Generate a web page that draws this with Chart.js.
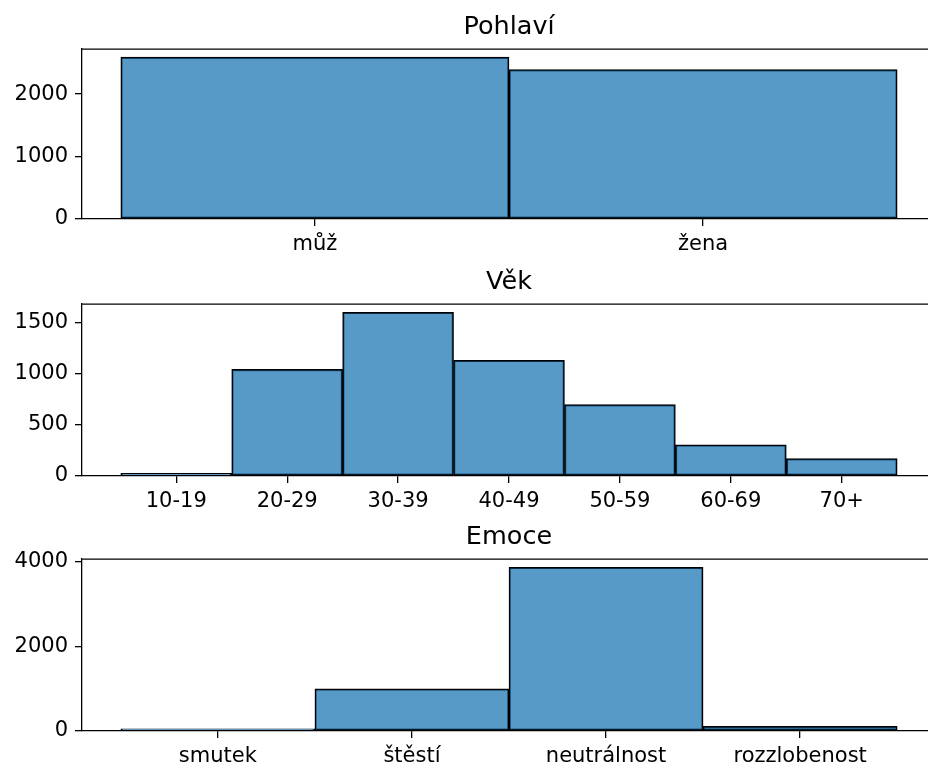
<!DOCTYPE html>
<html>
<head>
<meta charset="utf-8">
<script src="https://cdn.jsdelivr.net/npm/chart.js@4.4.1/dist/chart.umd.min.js"></script>
<style>
  html, body { margin: 0; padding: 0; background: #fff; overflow: hidden; }
  body { width: 928px; height: 764px; position: relative; }
  .panel { position: absolute; left: 0; width: 940px; }
</style>
</head>
<body>
<div class="panel" style="top:0px;height:255px"><canvas id="pohlavi"></canvas></div>
<div class="panel" style="top:255px;height:255px"><canvas id="vek"></canvas></div>
<div class="panel" style="top:510px;height:254px"><canvas id="emoce"></canvas></div>
<script>
// counts
const genderLabels = ['můž', 'žena'];
const genderCounts = [2590, 2390];
const genderTicks = [0, 1000, 2000];

const ageLabels = ['10-19', '20-29', '30-39', '40-49', '50-59', '60-69', '70+'];
const ageCounts = [25, 1045, 1605, 1135, 700, 305, 170];
const ageTicks = [0, 500, 1000, 1500];

const emotionLabels = ['smutek', 'štěstí', 'neutrálnost', 'rozzlobenost'];
const emotionCounts = [50, 995, 3860, 110];
const emotionTicks = [0, 2000, 4000];

Chart.defaults.font.family = "'DejaVu Sans', sans-serif";
Chart.defaults.color = '#000';
Chart.defaults.animation = false;

// top spine (matplotlib frame), right one is cut off in the picture
const frameTop = {
  id: 'frameTop',
  afterDraw(chart) {
    const { ctx, chartArea } = chart;
    ctx.save();
    ctx.strokeStyle = '#000';
    ctx.lineWidth = 1.3;
    ctx.beginPath();
    ctx.moveTo(chartArea.left, chartArea.top);
    ctx.lineTo(chartArea.right, chartArea.top);
    ctx.stroke();
    ctx.restore();
  }
};

const axisLine = { color: '#000', width: 1.3 };
const tickMarks = { drawOnChartArea: false, drawTicks: true, tickLength: 7, color: '#000', lineWidth: 1.3, offset: false };

function histPanel(id, title, labels, counts, yTicks, xAxisHeight) {
  const n = labels.length;
  const margin = 0.05 * n; // matplotlib default x margin
  return new Chart(document.getElementById(id), {
    type: 'bar',
    data: {
      datasets: [{
        data: counts.map((c, i) => ({ x: i, y: c })),
        backgroundColor: 'rgba(31,119,180,0.75)',
        borderColor: '#000',
        borderWidth: 1.5,
        borderSkipped: false,
        barPercentage: 1,
        categoryPercentage: 1,
      }],
    },
    options: {
      responsive: true,
      maintainAspectRatio: false,
      layout: { padding: { left: 0, right: 4, top: 0, bottom: 0 } },
      plugins: {
        legend: { display: false },
        tooltip: { enabled: false },
        title: {
          display: true,
          fullSize: false, // center over the plot area like matplotlib
          text: title,
          color: '#000',
          font: { size: 25.5, weight: 'normal' },
          padding: { top: 12.5, bottom: 6 },
        },
      },
      scales: {
        x: {
          type: 'linear',
          offset: false,
          min: -0.5 - margin,
          max: n - 0.5 + margin,
          afterBuildTicks: (axis) => { axis.ticks = labels.map((l, i) => ({ value: i })); },
          afterFit: (axis) => { axis.height = xAxisHeight; },
          ticks: {
            callback: (v) => labels[v],
            font: { size: 21 },
            padding: 6,
            maxRotation: 0,
            autoSkip: false,
          },
          grid: tickMarks,
          border: axisLine,
        },
        y: {
          min: 0,
          max: Math.max(...counts) * 1.05,
          afterBuildTicks: (axis) => { axis.ticks = yTicks.map((v) => ({ value: v })); },
          afterFit: (axis) => { axis.width = 82; },
          ticks: {
            callback: (v) => String(v),
            font: { size: 21 },
            padding: 7,
          },
          grid: tickMarks,
          border: axisLine,
        },
      },
    },
    plugins: [frameTop],
  });
}

histPanel('pohlavi', 'Pohlaví', genderLabels, genderCounts, genderTicks, 36);
histPanel('vek', 'Věk', ageLabels, ageCounts, ageTicks, 34);
histPanel('emoce', 'Emoce', emotionLabels, emotionCounts, emotionTicks, 33);
</script>
</body>
</html>
